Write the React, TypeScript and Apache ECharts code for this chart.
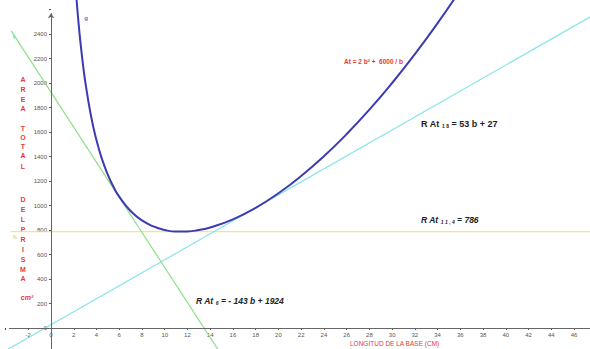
import React, { useEffect, useRef } from "react";
import * as echarts from "echarts";

// Area function At = 2 b² + 6000 / b (values read at sample lengths)
const curveB = [2.2, 2.4, 2.6, 2.8, 3, 3.5, 4, 4.5, 5, 5.5, 6, 7, 8, 9, 10, 11, 12, 13, 14, 16, 18, 20, 22, 24, 26, 28, 30, 32, 34, 35.5];
const curveAt = [2737, 2511, 2321, 2159, 2018, 1739, 1532, 1374, 1250, 1151, 1072, 955, 878, 829, 800, 787, 788, 800, 821, 887, 981, 1100, 1241, 1402, 1583, 1782, 2000, 2236, 2489, 2690];

// Tangent at b = 6: At = -143 b + 1924
const tan6B = [-3.5, 15];
const tan6At = [2425, -221];

// Tangent at b = 18: At = 53 b + 27
const tan18B = [-4, 48];
const tan18At = [-185, 2571];

// Minimum line At = 786
const minB = [-3.6, 48];
const minAt = [786, 786];

// Axis ranges / ticks
const xMin = -6, xMax = 48, xStep = 2;
const yMin = -200, yMax = 2800, yStep = 200;
const xHidden = [-6, -4, 48];
const yHidden = [-200, 2600, 2800];

// Vertical y-axis title letters and their pixel rows
const yTitleChars = ["A", "R", "E", "A", "T", "O", "T", "A", "L", "D", "E", "L", "P", "R", "I", "S", "M", "A"];
const yTitleRows = [79, 89, 99, 108, 128, 137, 146, 155, 166, 199, 209, 219, 229, 239, 249, 259, 269, 278];

const FONT = "'Liberation Sans', Arial, sans-serif";

export default function App() {
  const ref = useRef<HTMLDivElement>(null);
  useEffect(() => {
    if (!ref.current) return;
    const chart = echarts.init(ref.current, undefined, { renderer: "svg" });
    const zip = (a: number[], b: number[]) => a.map((v, i) => [v, b[i]]);
    const red = "#e8393a";
    const graphics: any[] = yTitleChars.map((c, i) => ({
      type: "text",
      x: 23,
      y: yTitleRows[i],
      style: { text: c, fill: red, font: `bold 7px ${FONT}`, align: "center", verticalAlign: "middle" },
    }));
    graphics.push(
      { type: "text", x: 27, y: 297, style: { text: "cm²", fill: red, font: `italic bold 7px ${FONT}`, align: "center", verticalAlign: "middle" } },
      { type: "text", x: 350, y: 343, style: { text: "LONGITUD DE LA BASE (CM)", fill: red, font: `6.5px ${FONT}`, align: "left", verticalAlign: "middle" } },
      { type: "text", x: 344, y: 61, style: { text: "At = 2 b² +  6000 / b", fill: red, font: `bold 6.5px ${FONT}`, align: "left", verticalAlign: "middle" } },
      {
        type: "text", x: 421, y: 124,
        style: {
          text: "{a|R At }{s|1 8}{a| = 53 b + 27}", verticalAlign: "middle", align: "left",
          rich: {
            a: { font: `bold 9px ${FONT}`, fill: "#222" },
            s: { font: `bold 5px ${FONT}`, fill: "#222", verticalAlign: "bottom" },
          },
        },
      },
      {
        type: "text", x: 421, y: 220,
        style: {
          text: "{a|R At }{s|1 1 , 4}{a| = 786}", verticalAlign: "middle", align: "left",
          rich: {
            a: { font: `italic bold 8.5px ${FONT}`, fill: "#222" },
            s: { font: `italic bold 5px ${FONT}`, fill: "#222", verticalAlign: "bottom" },
          },
        },
      },
      {
        type: "text", x: 196, y: 301,
        style: {
          text: "{a|R At }{s|6}{a| = - 143 b + 1924}", verticalAlign: "middle", align: "left",
          rich: {
            a: { font: `italic bold 8.5px ${FONT}`, fill: "#222" },
            s: { font: `italic bold 5px ${FONT}`, fill: "#222", verticalAlign: "bottom" },
          },
        },
      },
      { type: "text", x: 86, y: 18, style: { text: "g", fill: "#6a6ad0", font: `bold 6px ${FONT}`, align: "center", verticalAlign: "middle" } },
      { type: "text", x: 14, y: 37, style: { text: "f", fill: "#6fd86f", font: `bold 6px ${FONT}`, align: "center", verticalAlign: "middle" } },
      { type: "text", x: 15, y: 237, style: { text: "h", fill: "#e8d84a", font: `bold 6px ${FONT}`, align: "center", verticalAlign: "middle" } }
    );

    chart.setOption({
      animation: false,
      backgroundColor: "#ffffff",
      grid: { left: -17.2, right: -6.8, top: -15, bottom: -3.5, containLabel: false, outerBoundsMode: "none" },
      xAxis: {
        type: "value", min: xMin, max: xMax, interval: xStep,
        position: "bottom", offset: -24.5,
        splitLine: { show: false },
        axisLine: { show: false, onZero: false },
        axisTick: { show: true, length: 2, lineStyle: { color: "#555" } },
        axisLabel: {
          margin: 4, fontSize: 6, color: "#555", fontFamily: FONT,
          formatter: (v: number) => (xHidden.includes(v) ? "" : String(v)),
        },
      },
      yAxis: {
        type: "value", min: yMin, max: yMax, interval: yStep,
        position: "left", offset: -68.2,
        splitLine: { show: false },
        axisLine: { show: false, onZero: false },
        axisTick: { show: true, length: 2, lineStyle: { color: "#555" } },
        axisLabel: {
          margin: 4, fontSize: 6, color: "#555", fontFamily: FONT,
          formatter: (v: number) => (yHidden.includes(v) ? "" : String(v)),
        },
      },
      series: [
        {
          type: "line", data: zip(minB, minAt), showSymbol: false, symbol: "none",
          lineStyle: { color: "#f2e066", width: 1 },
          markLine: {
            silent: true, symbol: ["none", "arrow"], symbolSize: 5, label: { show: false },
            lineStyle: { color: "#666", width: 1, type: "solid" },
            data: [
              [{ coord: [0, yMin] }, { coord: [0, 2570] }],
              [{ coord: [-3.7, 0] }, { coord: [xMax, 0] }],
            ],
          },
        },
        { type: "line", data: zip(tan18B, tan18At), showSymbol: false, symbol: "none", lineStyle: { color: "#86e4ea", width: 1.2 } },
        { type: "line", data: zip(tan6B, tan6At), showSymbol: false, symbol: "none", lineStyle: { color: "#8ee08a", width: 1.2 } },
        { type: "line", data: zip(curveB, curveAt), smooth: true, showSymbol: false, symbol: "none", lineStyle: { color: "#3b3bb5", width: 2 } },
      ],
      graphic: graphics,
    });
    return () => chart.dispose();
  }, []);
  return <div ref={ref} style={{ width: 590, height: 349, position: "absolute", left: 0, top: 0 }} />;
}
